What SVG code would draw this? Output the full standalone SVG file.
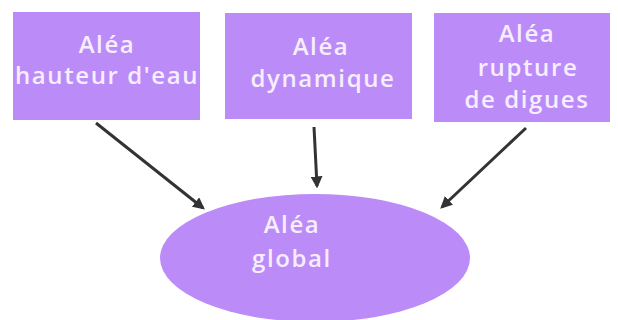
<svg xmlns="http://www.w3.org/2000/svg" width="618" height="320" viewBox="0 0 618 320">
<style>
.n{fill:#bb8cf8;}
.t{font-family:"Open Sans","DejaVu Sans",sans-serif;font-weight:600;font-size:24px;letter-spacing:1.6px;fill:#f6eefe;text-anchor:middle;}
.c{stroke:#333;stroke-width:3;fill:none;marker-end:url(#ah);}
</style>
<defs>
<marker id="ah" viewBox="0 0 10 10" refX="8" refY="5" markerWidth="4" markerHeight="4" orient="auto">
<path d="M0,0 L10,5 L0,10 z" fill="#333"/>
</marker>
</defs>
<rect width="618" height="320" fill="#ffffff"/>
<g id="connectors">
<line class="c" x1="96" y1="123" x2="203" y2="208"/>
<line class="c" x1="314" y1="127" x2="317" y2="186"/>
<line class="c" x1="526" y1="128" x2="442" y2="207"/>
</g>
<g id="n1">
<rect class="n" x="13" y="12" width="187" height="108"/>
<text class="t" x="107" y="53">Aléa</text>
<text class="t" x="107" y="84">hauteur d'eau</text>
</g>
<g id="n2">
<rect class="n" x="225" y="13" width="187" height="106"/>
<text class="t" x="321" y="55">Aléa</text>
<text class="t" x="323" y="87">dynamique</text>
</g>
<g id="n3">
<rect class="n" x="434" y="13" width="176" height="109"/>
<text class="t" x="527" y="42">Aléa</text>
<text class="t" x="528" y="76">rupture</text>
<text class="t" x="527" y="108">de digues</text>
</g>
<g id="n4">
<ellipse class="n" cx="315" cy="258" rx="155" ry="64"/>
<text class="t" x="292" y="233">Aléa</text>
<text class="t" x="292" y="267">global</text>
</g>
</svg>
